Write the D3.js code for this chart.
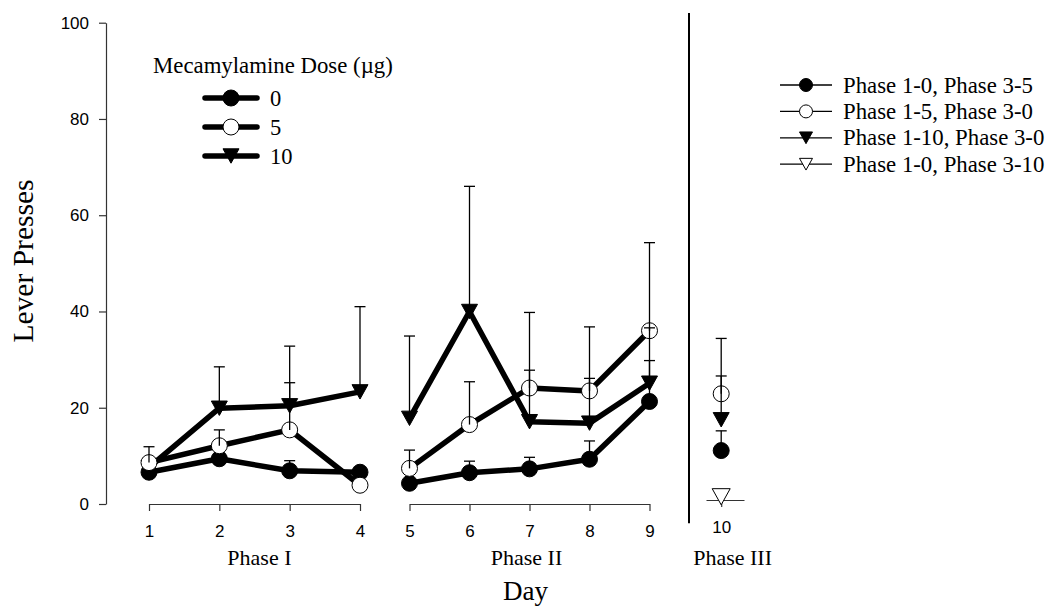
<!DOCTYPE html>
<html>
<head>
<meta charset="utf-8">
<script src="https://cdn.jsdelivr.net/npm/d3@7"></script>
<style>
  body { margin: 0; background: #fff; }
  svg { display: block; }
</style>
</head>
<body>
<svg id="chart" width="1052" height="610"></svg>
<script>
// Days 1-4 are Phase I, 5-9 Phase II, 10 Phase III
const daysI = [1, 2, 3, 4];
const daysII = [5, 6, 7, 8, 9];
const daysIII = [10];
const yTicks = [0, 20, 40, 60, 80, 100];

// Mecamylamine dose groups (Phase I / II), mean and top of error bar per day 1-9
const doses = ["0", "5", "10"];
const mean0 = [6.6, 9.4, 6.9, 6.6, 4.3, 6.5, 7.3, 9.3, 21.3];
const top0 = [null, null, 9.0, null, null, 8.9, 9.7, 13.1, 29.8];
const mean5 = [8.6, 12.1, 15.4, 3.9, 7.4, 16.5, 24.1, 23.5, 36.0];
const top5 = [11.9, 15.4, 25.2, null, 11.2, 25.4, 39.8, 36.8, 54.3];
const mean10 = [7.6, 19.9, 20.4, 23.3, 17.8, 40.0, 17.1, 16.8, 25.1];
const top10 = [null, 28.5, 32.8, 41.0, 34.9, 66.0, 27.8, 26.1, 36.6];

// Phase III groups (day 10)
const groups3 = ["Phase 1-0, Phase 3-5", "Phase 1-5, Phase 3-0", "Phase 1-10, Phase 3-0", "Phase 1-0, Phase 3-10"];
const mean3 = [11.1, 22.9, 17.5, 1.5];
const top3 = [15.2, 34.4, 26.6, null];

const SERIF = "'Liberation Serif', 'Times New Roman', serif";
const SANS = "'Liberation Sans', Arial, sans-serif";

const svg = d3.select("#chart");

const y = d3.scaleLinear().domain([0, 100]).range([504, 22.7]);
const xI = d3.scaleLinear().domain([1, 4]).range([149, 360]);
const xII = d3.scaleLinear().domain([5, 9]).range([409.5, 649.5]);
const xIII = d3.scaleLinear().domain([9.6, 10.6]).range([706, 744]);
const xDay = (d) => (d <= 4 ? xI(d) : d <= 9 ? xII(d) : xIII(d));

// ---- markers
const triPath = (w, h) => `M${-w / 2},${-h / 2}L${w / 2},${-h / 2}L0,${h / 2}Z`;

function marker(g, shape, filled, size) {
  if (shape === "circle") {
    g.append("circle")
      .attr("r", size / 2)
      .attr("fill", filled ? "#000" : "#fff")
      .attr("stroke", "#000")
      .attr("stroke-width", 1);
  } else {
    g.append("path")
      .attr("d", triPath(size, size * 0.9))
      .attr("fill", filled ? "#000" : "#fff")
      .attr("stroke", "#000")
      .attr("stroke-width", 1);
  }
}

// ---- axes
const axisStyle = (g) => {
  g.selectAll("path, line").attr("stroke", "#333").attr("stroke-width", 1.2);
  g.selectAll("text").attr("font-family", SANS).attr("font-size", 17).attr("fill", "#000");
};

svg.append("g")
  .attr("transform", "translate(106,0)")
  .call(d3.axisLeft(y).tickValues(yTicks).tickSize(7).tickSizeOuter(0).tickPadding(10))
  .call(axisStyle);

svg.append("g")
  .attr("transform", `translate(0,${y(0)})`)
  .call(d3.axisBottom(xI).tickValues(daysI).tickFormat(d3.format("d")).tickSize(7).tickSizeOuter(0).tickPadding(14))
  .call(axisStyle);

svg.append("g")
  .attr("transform", `translate(0,${y(0)})`)
  .call(d3.axisBottom(xII).tickValues(daysII).tickFormat(d3.format("d")).tickSize(7).tickSizeOuter(0).tickPadding(14))
  .call(axisStyle);

svg.append("g")
  .attr("transform", `translate(0,${y(0) - 4})`)
  .call(d3.axisBottom(xIII).tickValues(daysIII).tickFormat(d3.format("d")).tickSize(7).tickSizeOuter(0).tickPadding(14))
  .call(axisStyle);

// separator before Phase III
svg.append("line")
  .attr("x1", 689).attr("x2", 689)
  .attr("y1", y(102)).attr("y2", y(-4))
  .attr("stroke", "#000").attr("stroke-width", 2);

// ---- axis titles
svg.append("text")
  .attr("transform", "translate(33,261) rotate(-90)")
  .attr("text-anchor", "middle")
  .attr("font-family", SERIF).attr("font-size", 29.5)
  .text("Lever Presses");

svg.append("text")
  .attr("x", 525.5).attr("y", 600)
  .attr("text-anchor", "middle")
  .attr("font-family", SERIF).attr("font-size", 27)
  .text("Day");

const phaseLabels = [["Phase I", xI(2.57)], ["Phase II", xII(6.95)], ["Phase III", xIII(10.3)]];
svg.selectAll(".phase")
  .data(phaseLabels)
  .join("text")
  .attr("x", (d) => d[1]).attr("y", 565)
  .attr("text-anchor", "middle")
  .attr("font-family", SERIF).attr("font-size", 22)
  .text((d) => d[0]);

// ---- data series (Phase I / II)
const series = [
  { dose: "0", mean: mean0, top: top0, shape: "circle", filled: true },
  { dose: "5", mean: mean5, top: top5, shape: "circle", filled: false },
  { dose: "10", mean: mean10, top: top10, shape: "tri", filled: true },
];
const drawOrder = [series[2], series[0], series[1]];
const allDays = daysI.concat(daysII);

const line = d3.line().x((d) => xDay(d.day)).y((d) => y(d.v));
const plot = svg.append("g");

drawOrder.forEach((s) => {
  const pts = allDays.map((day, i) => ({ day, v: s.mean[i] }));
  [pts.filter((p) => p.day <= 4), pts.filter((p) => p.day > 4)].forEach((seg) => {
    plot.append("path")
      .attr("d", line(seg))
      .attr("fill", "none")
      .attr("stroke", "#000")
      .attr("stroke-width", 5.5)
      .attr("stroke-linejoin", "round");
  });
  pts.forEach((p) => {
    const g = plot.append("g").attr("transform", `translate(${xDay(p.day)},${y(p.v)})`);
    marker(g, s.shape, s.filled, 16);
  });
});

// ---- Phase III points
const shapes3 = [["circle", true], ["circle", false], ["tri", true], ["tri", false]];
groups3.forEach((name, i) => {
  const g = plot.append("g").attr("transform", `translate(${xIII(10)},${y(mean3[i])})`);
  marker(g, shapes3[i][0], shapes3[i][1], i === 3 ? 18 : 16);
});

// ---- error bars (upper only), on top of markers
const errs = [];
series.forEach((s) => allDays.forEach((day, i) => {
  if (s.top[i] != null) errs.push({ x: xDay(day), v: s.mean[i], t: s.top[i] });
}));
groups3.forEach((name, i) => {
  if (top3[i] != null) errs.push({ x: xIII(10), v: mean3[i], t: top3[i] });
});
const eg = svg.append("g").attr("stroke", "#000").attr("stroke-width", 1.3);
errs.forEach((e) => {
  eg.append("line").attr("x1", e.x).attr("x2", e.x).attr("y1", y(e.v)).attr("y2", y(e.t));
  eg.append("line").attr("x1", e.x - 5.5).attr("x2", e.x + 5.5).attr("y1", y(e.t)).attr("y2", y(e.t));
});

// ---- dose legend (upper left)
svg.append("text")
  .attr("x", 153).attr("y", 73)
  .attr("font-family", SERIF).attr("font-size", 22.8)
  .text("Mecamylamine Dose (\u00b5g)");

const leg1 = svg.append("g");
series.forEach((s, i) => {
  const ly = 98 + i * 29;
  leg1.append("line")
    .attr("x1", 205).attr("x2", 257).attr("y1", ly).attr("y2", ly)
    .attr("stroke", "#000").attr("stroke-width", 5.5).attr("stroke-linecap", "round");
  const g = leg1.append("g").attr("transform", `translate(231,${ly})`);
  marker(g, s.shape, s.filled, 16);
  leg1.append("text")
    .attr("x", 270).attr("y", ly + 8)
    .attr("font-family", SERIF).attr("font-size", 22.5)
    .text(doses[i]);
});

// ---- Phase III legend (right)
const leg2 = svg.append("g");
groups3.forEach((name, i) => {
  const ly = 85 + i * 26.4;
  leg2.append("line")
    .attr("x1", 780).attr("x2", 832).attr("y1", ly).attr("y2", ly)
    .attr("stroke", "#000").attr("stroke-width", 1.3);
  const g = leg2.append("g").attr("transform", `translate(806,${ly})`);
  marker(g, shapes3[i][0], shapes3[i][1], 13);
  leg2.append("text")
    .attr("x", 843).attr("y", ly + 7.5)
    .attr("font-family", SERIF).attr("font-size", 22.8)
    .text(name);
});
</script>
</body>
</html>
